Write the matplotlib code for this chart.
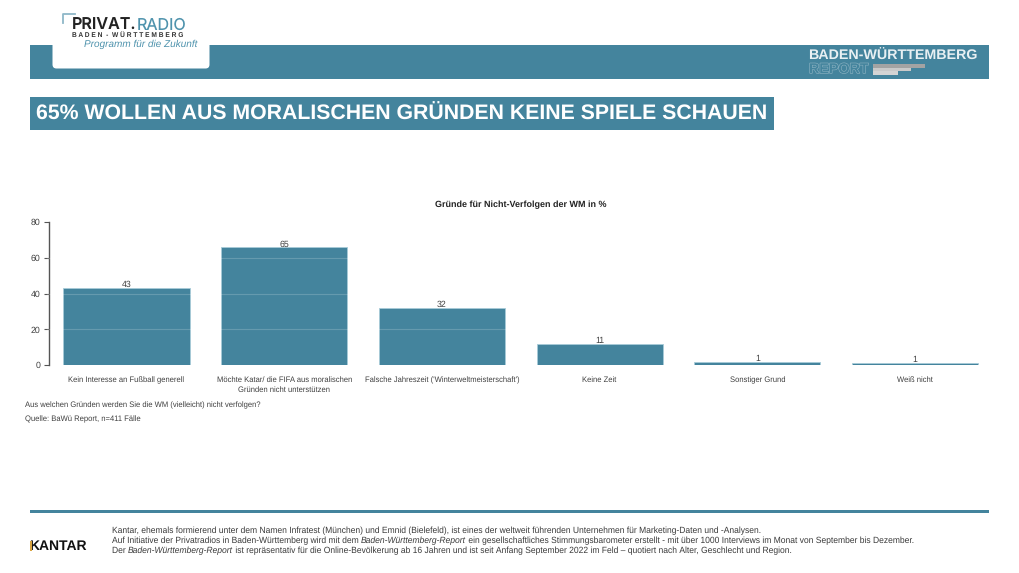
"""Baden-Wuerttemberg report slide: reasons for not following the World Cup."""

import matplotlib
matplotlib.use("Agg")
import matplotlib.pyplot as plt
import matplotlib.patheffects as pe
from matplotlib.patches import FancyBboxPatch, Rectangle

W, H = 1019, 573
TEAL = "#44849d"
TEXT = "#404040"

categories = [
    "Kein Interesse an Fußball generell",
    "Möchte Katar/ die FIFA aus moralischen\nGründen nicht unterstützen",
    "Falsche Jahreszeit ('Winterweltmeisterschaft')",
    "Keine Zeit",
    "Sonstiger Grund",
    "Weiß nicht",
]
values = [43.3, 65.8, 31.9, 11.6, 1.8, 1.3]
value_labels = ["43", "65", "32", "11", "1", "1"]
y_ticks = [0, 20, 40, 60, 80]

plt.rcParams["font.family"] = ["Liberation Sans", "DejaVu Sans"]
plt.rcParams["text.hinting"] = "no_hinting"

fig = plt.figure(figsize=(W / 100, H / 100), dpi=100)

# overlay in pixel coordinates for the slide furniture
bg = fig.add_axes([0, 0, 1, 1])
bg.set_xlim(0, W)
bg.set_ylim(H, 0)
bg.axis("off")


def box(x0, y0, x1, y1, color, ax=bg, zorder=1):
    ax.add_patch(Rectangle((x0, y0), x1 - x0, y1 - y0, fc=color, ec="none", zorder=zorder))


def runs(x, y, parts, size=6.15):
    """Draw text pieces one after the other, part = (string, style)."""
    r = fig.canvas.get_renderer()
    for s, style in parts:
        t = bg.text(x, y, s.replace(" ", "\u00a0"), fontsize=size, style=style, color="#3a3a3a",
                    va="center", ha="left")
        x = t.get_window_extent(r).x1


# header band and logo tab
box(30, 44.5, 989.5, 78.5, TEAL)
bg.add_patch(FancyBboxPatch((56, 40), 150, 25, boxstyle="round,pad=3.5,rounding_size=4",
                            fc="white", ec="none", zorder=2))
bg.plot([63.5, 63.5, 75], [23, 13.5, 13.5], color="#8fb8c8", lw=1.3, zorder=3)
r = fig.canvas.get_renderer()
logo = bg.text(72, 26, "PRIVAT.", fontsize=11.6, fontfamily="Inter", fontweight="semibold",
               color="#222222", va="center", ha="left", zorder=3)
bg.text(bg.transData.inverted().transform((logo.get_window_extent(r).x1, 0))[0], 26, "RADIO",
        fontsize=11.6, fontfamily="Inter", color="#4f93ad", va="center", ha="left", zorder=3)
bg.text(72, 36, "B A D E N  -  W Ü R T T E M B E R G", fontsize=4.75, fontweight="bold",
        color="#333333", va="center", ha="left", zorder=3)
bg.text(84, 44.8, "Programm für die Zukunft", fontsize=7.2, style="italic",
        color="#4f93ad", va="center", ha="left", zorder=3)

bg.text(808.5, 56.5, "BADEN-WÜRTTEMBERG", fontsize=10.3, fontweight="bold", color="#e8f0f3",
        va="center", ha="left", zorder=3)
rep = bg.text(809, 69.5, "REPORT", fontsize=10.3, fontweight="bold", color=TEAL,
              va="center", ha="left", zorder=3)
rep.set_path_effects([pe.withStroke(linewidth=0.8, foreground="#8fb5c4")])
box(873, 63.5, 925, 67.5, "#a3a3a3", zorder=3)
box(873, 67.5, 911, 71, "#c9c9c9", zorder=3)
box(873, 71, 898, 74.5, "#d4d4d4", zorder=3)

# headline
box(30, 97, 774, 129.5, TEAL)
bg.text(36, 114, "65% WOLLEN AUS MORALISCHEN GRÜNDEN KEINE SPIELE SCHAUEN", fontsize=15.34,
        fontweight="bold", color="white", va="center", ha="left", zorder=3)

# chart
ax_left, ax_right = 47, 1000
ax_top, ax_bottom = 222, 365
ax = fig.add_axes([ax_left / W, 1 - ax_bottom / H, (ax_right - ax_left) / W, (ax_bottom - ax_top) / H])
ax.patch.set_alpha(0)
centre0, step = 126.5, 157.7
ax.set_xlim((ax_left - centre0) / step, (ax_right - centre0) / step)
ax.set_ylim(0, 80)
xpos = list(range(len(categories)))
ax.bar(xpos, values, width=0.8, color=TEAL, edgecolor="#a8cbd8", linewidth=0.6, zorder=2)
for v in y_ticks[1:-1]:
    ax.axhline(v, color="white", alpha=0.18, lw=0.8, zorder=3)
for x, v, s in zip(xpos, values, value_labels):
    ax.text(x, v - 0.6, s, fontsize=6.3, color=TEXT, ha="center", va="bottom", zorder=4)
ax.set_yticks(y_ticks)
ax.set_xticks(xpos)
ax.set_xticklabels(categories, fontsize=5.5, color=TEXT, linespacing=1.3)
ax.tick_params(axis="x", length=0, pad=8.3)
ax.tick_params(axis="y", labelsize=6.3, labelcolor=TEXT, length=3.5, width=0.8, color="#555555", pad=3)
for side in ["top", "right", "bottom"]:
    ax.spines[side].set_visible(False)
ax.spines["left"].set_position(("outward", -1.5))
ax.spines["left"].set_color("#555555")
ax.spines["left"].set_linewidth(1.0)

bg.text(521, 204.5, "Gründe für Nicht-Verfolgen der WM in %", fontsize=6.5, fontweight="bold",
        color="#222222", ha="center", va="center")
bg.text(25, 405.5, "Aus welchen Gründen werden Sie die WM (vielleicht) nicht verfolgen?", fontsize=5.5,
        color=TEXT, va="center")
bg.text(25, 419.5, "Quelle: BaWü Report, n=411 Fälle", fontsize=5.5, color=TEXT, va="center")

# footer
box(30, 510, 989.5, 513, TEAL)
bg.text(29.5, 546, "KANTAR", fontsize=10, fontweight="bold", color="#111111", va="center", ha="left")
box(30.4, 541, 32.2, 551, "#d9a441", zorder=4)
runs(112, 531, [("Kantar, ehemals formierend unter dem Namen Infratest (München) und Emnid (Bielefeld), ist eines der "
                 "weltweit führenden Unternehmen für Marketing-Daten und -Analysen.", "normal")])
runs(112, 541, [("Auf Initiative der Privatradios in Baden-Württemberg wird mit dem ", "normal"),
                ("Baden-Württemberg-Report", "italic"),
                (" ein gesellschaftliches Stimmungsbarometer erstellt - mit über 1000 Interviews im Monat "
                 "von September bis Dezember.", "normal")])
runs(112, 551, [("Der ", "normal"), ("Baden-Württemberg-Report", "italic"),
                (" ist repräsentativ für die Online-Bevölkerung ab 16 Jahren und ist seit Anfang September "
                 "2022 im Feld – quotiert nach Alter, Geschlecht und Region.", "normal")])

fig.savefig("out.png", dpi=100)
